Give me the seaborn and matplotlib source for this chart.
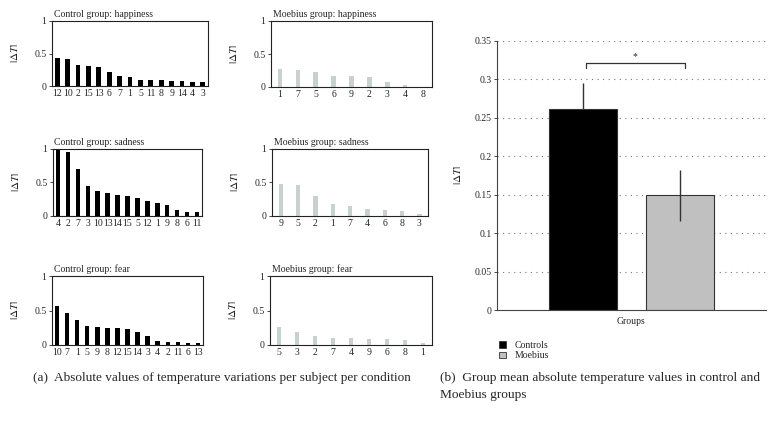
import matplotlib
matplotlib.use("Agg")
import matplotlib.pyplot as plt
import seaborn as sns
import pandas as pd
from matplotlib.patches import Patch

sns.set_theme(style="white")
plt.rcParams['font.family'] = ['Liberation Serif', 'DejaVu Serif']
plt.rcParams['mathtext.fontset'] = 'stix'

# ---- data ----
ctrl_happy_subj = ["12", "10", "2", "15", "13", "6", "7", "1", "5", "11", "8", "9", "14", "4", "3"]
ctrl_happy_vals = [0.434, 0.41, 0.33, 0.31, 0.29, 0.22, 0.15, 0.14, 0.10, 0.10, 0.09, 0.08, 0.07, 0.06, 0.055]
moeb_happy_subj = ["1", "7", "5", "6", "9", "2", "3", "4", "8"]
moeb_happy_vals = [0.27, 0.25, 0.23, 0.17, 0.165, 0.15, 0.08, 0.03, 0.005]

ctrl_sad_subj = ["4", "2", "7", "3", "10", "13", "14", "15", "5", "12", "1", "9", "8", "6", "11"]
ctrl_sad_vals = [0.985, 0.96, 0.70, 0.445, 0.38, 0.345, 0.31, 0.295, 0.27, 0.22, 0.195, 0.16, 0.09, 0.055, 0.055]
moeb_sad_subj = ["9", "5", "2", "1", "7", "4", "6", "8", "3"]
moeb_sad_vals = [0.485, 0.47, 0.30, 0.175, 0.145, 0.105, 0.085, 0.07, 0.025]

ctrl_fear_subj = ["10", "7", "1", "5", "9", "8", "12", "15", "14", "3", "4", "2", "11", "6", "13"]
ctrl_fear_vals = [0.567, 0.457, 0.36, 0.28, 0.255, 0.25, 0.25, 0.226, 0.19, 0.125, 0.058, 0.048, 0.048, 0.03, 0.03]
moeb_fear_subj = ["5", "3", "2", "7", "4", "9", "6", "8", "1"]
moeb_fear_vals = [0.265, 0.183, 0.13, 0.10, 0.096, 0.09, 0.08, 0.072, 0.024]

groups = ["Controls", "Moebius"]
group_means = [0.261, 0.149]
group_err = [0.034, 0.033]
signif_y = 0.321
signif_label = "*"

CTRL_C = "#000000"
MOEB_C = "#c8d2cc"
BIG_GRAY = "#c0c0c0"

fig = plt.figure(figsize=(7.75, 4.22), dpi=100)
W, H = 775, 422

def ax_px(l, t, r, b):
    return fig.add_axes([l / W, 1 - b / H, (r - l) / W, (b - t) / H])

small = [
    ((52, 21, 208, 86), "Control group: happiness", ctrl_happy_subj, ctrl_happy_vals, CTRL_C, 0.45),
    ((271, 21, 432, 87), "Moebius group: happiness", moeb_happy_subj, moeb_happy_vals, MOEB_C, 0.25),
    ((53, 149, 202, 216), "Control group: sadness", ctrl_sad_subj, ctrl_sad_vals, CTRL_C, 0.45),
    ((272, 149, 428, 216), "Moebius group: sadness", moeb_sad_subj, moeb_sad_vals, MOEB_C, 0.25),
    ((52, 276, 203, 345), "Control group: fear", ctrl_fear_subj, ctrl_fear_vals, CTRL_C, 0.45),
    ((270, 276, 432, 345), "Moebius group: fear", moeb_fear_subj, moeb_fear_vals, MOEB_C, 0.25),
]

for (box, title, subj, vals, col, w) in small:
    ax = ax_px(*box)
    df = pd.DataFrame({"subj": subj, "val": vals})
    sns.barplot(data=df, x="subj", y="val", order=subj, color=col, width=w,
                saturation=1, ax=ax, edgecolor="none")
    ax.set_ylim(0, 1)
    ax.set_yticks([0, 0.5, 1])
    ax.set_yticklabels(["0", "0.5", "1"])
    ax.set_xlabel("")
    ax.set_ylabel(r"$|\Delta T|$", fontsize=8, labelpad=10)
    ax.set_title(title, fontsize=7, loc="left", pad=3, x=0.01)
    ax.tick_params(axis="y", length=2, width=0.6, labelsize=7, pad=2, left=True)
    ax.tick_params(axis="x", length=0, labelsize=7, pad=2)
    for s in ax.spines.values():
        s.set_linewidth(0.8)
        s.set_color("#222222")
    ax.set_facecolor("white")

# ---- big panel ----
axb = ax_px(497, 41, 766, 310)
dfb = pd.DataFrame({"group": groups, "mean": group_means})
axb.set_axisbelow(True)
for yv in [0.05, 0.1, 0.15, 0.2, 0.25, 0.3, 0.35]:
    axb.axhline(yv, color="#777777", lw=0.8, ls=(0, (1, 4)), zorder=0)
sns.barplot(data=dfb, x="group", y="mean", hue="group", order=groups, hue_order=groups,
            palette=[CTRL_C, BIG_GRAY], width=0.71, saturation=1, ax=axb,
            edgecolor="#333333", linewidth=0.8, legend=False, zorder=2)
# controls error bar sits behind its (black) bar, Moebius error bar in front
axb.errorbar(groups[:1], group_means[:1], yerr=group_err[:1], fmt="none", ecolor="#333333",
             elinewidth=1.0, capsize=0, zorder=1)
axb.errorbar(groups[1:], group_means[1:], yerr=group_err[1:], fmt="none", ecolor="#333333",
             elinewidth=1.0, capsize=0, zorder=3)
axb.set_xlim(-0.887, 1.887)
axb.set_ylim(0, 0.35)
yt = [0, 0.05, 0.1, 0.15, 0.2, 0.25, 0.3, 0.35]
axb.set_yticks(yt)
axb.set_yticklabels(["0", "0.05", "0.1", "0.15", "0.2", "0.25", "0.3", "0.35"])
axb.set_xticks([])
axb.set_xlabel("Groups", fontsize=7)
axb.xaxis.set_label_coords(0.5, -0.025, transform=axb.transAxes)
axb.xaxis.label.set_va("top")
axb.set_ylabel(r"$|\Delta T|$", fontsize=8, labelpad=8)
axb.tick_params(axis="y", length=2, width=0.6, labelsize=7, pad=2, left=True)
for side in ["top", "right"]:
    axb.spines[side].set_visible(False)
axb.spines["left"].set_color("#444444")
axb.spines["bottom"].set_color("#444444")
axb.spines["left"].set_linewidth(0.8)
axb.spines["bottom"].set_linewidth(0.8)

# significance bracket
x0, x1 = 0.03, 1.05
axb.plot([x0, x0, x1, x1], [signif_y - 0.006, signif_y, signif_y, signif_y - 0.006],
         color="#333333", lw=0.9, zorder=4)
axb.text((x0 + x1) / 2, signif_y + 0.003, signif_label, ha="center", va="bottom", fontsize=7)

handles = [Patch(facecolor=CTRL_C, edgecolor="#333333", lw=0.6),
           Patch(facecolor=BIG_GRAY, edgecolor="#333333", lw=0.6)]
fig.legend(handles, groups, loc="upper left", bbox_to_anchor=(494 / W, 1 - 336 / H),
           frameon=False, fontsize=7, handlelength=0.7, handleheight=0.7,
           handletextpad=0.9, labelspacing=0.15, borderpad=0)

# captions
fig.text(33 / W, 1 - 378 / H, "(a)  Absolute values of temperature variations per subject per condition",
         fontsize=9.5, va="center", ha="left")
fig.text(440 / W, 1 - 378 / H, "(b)  Group mean absolute temperature values in control and",
         fontsize=9.6, va="center", ha="left")
fig.text(440 / W, 1 - 395 / H, "Moebius groups", fontsize=9.6, va="center", ha="left")

fig.savefig("out.png", dpi=100, facecolor="white")
